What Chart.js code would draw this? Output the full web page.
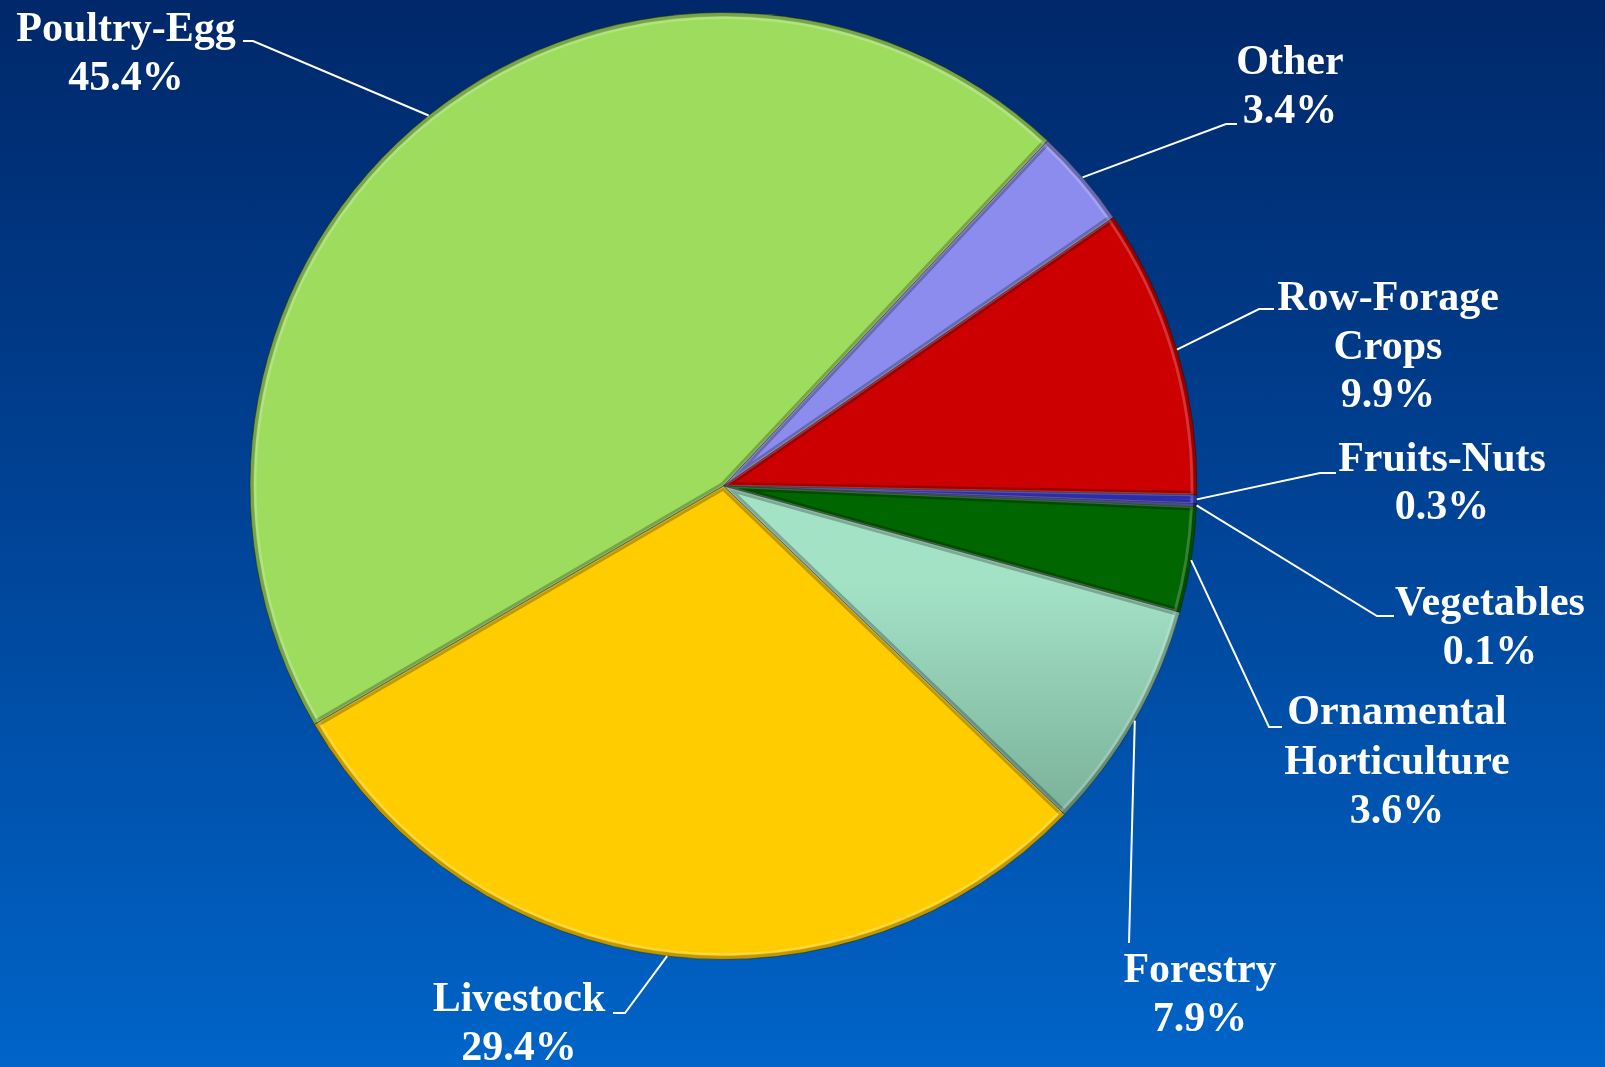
<!DOCTYPE html>
<html>
<head>
<meta charset="utf-8">
<script src="https://cdn.jsdelivr.net/npm/chart.js@4.4.1/dist/chart.umd.min.js"></script>
<style>
  html, body { margin: 0; padding: 0; width: 1605px; height: 1067px; overflow: hidden; }
  body { background: linear-gradient(to bottom, #00286a 0%, #003e8e 40%, #0064c8 100%); }
  #wrap { position: absolute; left: 0; top: 0; width: 1605px; height: 1067px; }
</style>
</head>
<body>
<div id="wrap"><canvas id="c"></canvas></div>
<script>
// ---- data ----
const categories = ['Poultry-Egg', 'Other', 'Row-Forage Crops', 'Fruits-Nuts', 'Vegetables', 'Ornamental Horticulture', 'Forestry', 'Livestock'];
const labelLines = [['Poultry-Egg'], ['Other'], ['Row-Forage', 'Crops'], ['Fruits-Nuts'], ['Vegetables'], ['Ornamental', 'Horticulture'], ['Forestry'], ['Livestock']];
const shares = [45.4, 3.4, 9.9, 0.3, 0.1, 3.6, 7.9, 29.4];
const sliceColors = ['#9edc5e', '#8c8cee', '#cc0000', '#3c3ce0', '#2a2aa0', '#006600', '#8ecfb2', '#ffcc00'];

// ---- label layout (style) ----
const labelStyle = [
  { x: 126,  ys: [30, 79],            pts: [[253, 41], [243, 41]] },
  { x: 1290, ys: [63, 112],           pts: [[1226, 124], [1237, 124]] },
  { x: 1388, ys: [299, 348, 396],     pts: [[1259, 309], [1274, 309]] },
  { x: 1442, ys: [460, 508],          pts: [[1320, 473], [1336, 473]] },
  { x: 1490, ys: [604, 653],          pts: [[1377, 616], [1394, 616]] },
  { x: 1397, ys: [713, 763, 812],     pts: [[1269, 727], [1282, 727]] },
  { x: 1200, ys: [971, 1020],         pts: [[1129, 943]] },
  { x: 519,  ys: [1000, 1049],        pts: [[625, 1013], [613, 1013]] }
];

const total = shares.reduce((a, b) => a + b, 0);
const rotationDeg = 43.2 - shares[0] / total * 360;

const bevelPlugin = {
  id: 'bevel',
  afterDatasetsDraw(chart) {
    const ctx = chart.ctx;
    const meta = chart.getDatasetMeta(0);
    meta.data.forEach((arc) => {
      const { x, y, startAngle, endAngle, outerRadius } = arc.getProps(['x', 'y', 'startAngle', 'endAngle', 'outerRadius'], true);
      ctx.save();
      ctx.beginPath();
      ctx.moveTo(x, y);
      ctx.arc(x, y, outerRadius, startAngle, endAngle);
      ctx.closePath();
      ctx.clip();
      ctx.lineJoin = 'round';
      ctx.strokeStyle = 'rgba(0,0,0,0.25)';
      ctx.lineWidth = 8;
      ctx.stroke();
      ctx.strokeStyle = 'rgba(255,255,255,0.2)';
      ctx.lineWidth = 3;
      ctx.beginPath();
      ctx.moveTo(x, y);
      ctx.arc(x, y, outerRadius - 5, startAngle, endAngle);
      ctx.closePath();
      ctx.stroke();
      ctx.restore();
    });
  }
};

const labelPlugin = {
  id: 'pieLabels',
  afterDraw(chart) {
    const ctx = chart.ctx;
    const meta = chart.getDatasetMeta(0);
    ctx.save();
    ctx.strokeStyle = '#ffffff';
    ctx.lineWidth = 2;
    meta.data.forEach((arc, i) => {
      const { x, y, startAngle, endAngle, outerRadius } = arc.getProps(['x', 'y', 'startAngle', 'endAngle', 'outerRadius'], true);
      const mid = (startAngle + endAngle) / 2;
      const sx = x + Math.cos(mid) * outerRadius;
      const sy = y + Math.sin(mid) * outerRadius;
      const st = labelStyle[i];
      ctx.beginPath();
      ctx.moveTo(sx, sy);
      st.pts.forEach(p => ctx.lineTo(p[0], p[1]));
      ctx.stroke();
      const lines = labelLines[i].concat([chart.data.datasets[0].data[i].toFixed(1) + '%']);
      ctx.fillStyle = '#ffffff';
      ctx.font = 'bold 42px "Liberation Serif", "Times New Roman", serif';
      ctx.textAlign = 'center';
      ctx.textBaseline = 'middle';
      lines.forEach((t, k) => ctx.fillText(t, st.x, st.ys[k]));
    });
    ctx.restore();
  }
};

function sliceBg(context) {
  const i = context.dataIndex;
  if (categories[i] === 'Forestry') {
    const chart = context.chart;
    const a = chart.chartArea;
    if (!a) return sliceColors[i];
    const g = chart.ctx.createLinearGradient(0, a.top + a.height * 0.6, 0, a.top + a.height * 0.88);
    g.addColorStop(0, '#a4e2c6');
    g.addColorStop(1, '#74aa94');
    return g;
  }
  return sliceColors[i];
}

new Chart(document.getElementById('c'), {
  type: 'pie',
  data: {
    labels: categories,
    datasets: [{
      data: shares,
      backgroundColor: sliceBg,
      borderColor: 'rgba(20,30,20,0.5)',
      borderWidth: 1
    }]
  },
  options: {
    responsive: true,
    maintainAspectRatio: false,
    animation: false,
    rotation: rotationDeg,
    layout: { padding: { top: 12, bottom: 107, left: 249.5, right: 407.5 } },
    plugins: {
      legend: { display: false },
      tooltip: { enabled: false }
    }
  },
  plugins: [bevelPlugin, labelPlugin]
});
</script>
</body>
</html>
